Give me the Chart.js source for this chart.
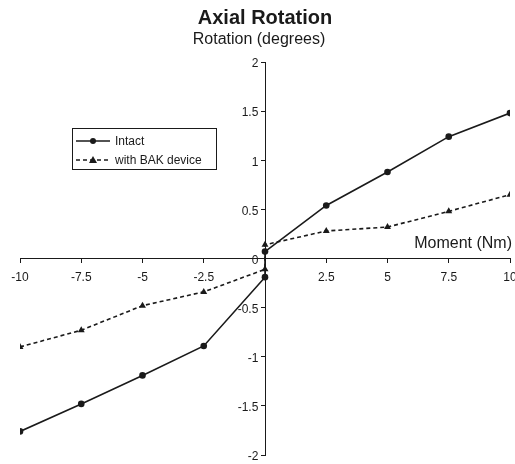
<!DOCTYPE html>
<html>
<head>
<meta charset="utf-8">
<script src="https://cdn.jsdelivr.net/npm/chart.js@4/dist/chart.umd.min.js"></script>
<style>
html,body{margin:0;padding:0;background:#fff;}
#wrap{width:515px;height:464px;}
</style>
</head>
<body>
<div id="wrap"><canvas id="c" width="515" height="464"></canvas></div>
<script>
const titleText = "Axial Rotation";
const subtitleText = "Rotation (degrees)";
const xAxisLabel = "Moment (Nm)";
const seriesNames = ["Intact", "with BAK device"];
const intactX = [-10, -7.5, -5, -2.5, 0, 0, 2.5, 5, 7.5, 10];
const intactY = [-1.76, -1.48, -1.19, -0.89, -0.19, 0.07, 0.54, 0.88, 1.24, 1.48];
const bakX = [-10, -7.5, -5, -2.5, 0, 0, 2.5, 5, 7.5, 10];
const bakY = [-0.90, -0.73, -0.48, -0.34, -0.11, 0.14, 0.28, 0.32, 0.48, 0.65];
const xTicks = [-10, -7.5, -5, -2.5, 0, 2.5, 5, 7.5, 10];
const yTicks = [-2, -1.5, -1, -0.5, 0, 0.5, 1, 1.5, 2];

const ink = '#1a1a1a';
const toPts = (xs, ys) => xs.map((x, i) => ({x: x, y: ys[i]}));

const textPlugin = {
  id: 'texts',
  afterDraw(chart) {
    const ctx = chart.ctx;
    ctx.save();
    ctx.fillStyle = ink;
    ctx.textBaseline = 'alphabetic';
    ctx.textAlign = 'center';
    ctx.font = 'bold 20px "Liberation Sans", Arial, sans-serif';
    ctx.fillText(titleText, 265, 24);
    ctx.font = '16px "Liberation Sans", Arial, sans-serif';
    ctx.fillText(subtitleText, 259, 44);
    ctx.textAlign = 'right';
    ctx.font = '16px "Liberation Sans", Arial, sans-serif';
    ctx.fillText(xAxisLabel, 512, 248);
    // legend
    const lx = 72, ly = 128, lw = 144, lh = 41;
    ctx.strokeStyle = ink;
    ctx.lineWidth = 1;
    ctx.strokeRect(lx + 0.5, ly + 0.5, lw, lh);
    ctx.font = '12px "Liberation Sans", Arial, sans-serif';
    ctx.textAlign = 'left';
    ctx.textBaseline = 'middle';
    chart.data.datasets.forEach((ds, i) => {
      const y = ly + 13 + i * 19;
      ctx.beginPath();
      ctx.lineWidth = 1.5;
      ctx.setLineDash(ds.borderDash || []);
      ctx.moveTo(lx + 4, y);
      ctx.lineTo(lx + 38, y);
      ctx.stroke();
      ctx.setLineDash([]);
      const cx = lx + 21;
      ctx.beginPath();
      if (ds.pointStyle === 'triangle') {
        ctx.moveTo(cx, y - 4);
        ctx.lineTo(cx + 4, y + 3);
        ctx.lineTo(cx - 4, y + 3);
        ctx.closePath();
      } else {
        ctx.arc(cx, y, 3, 0, Math.PI * 2);
      }
      ctx.fillStyle = ink;
      ctx.fill();
      ctx.fillText(ds.label, lx + 43, y + 1);
    });
    ctx.restore();
  }
};

new Chart(document.getElementById('c'), {
  type: 'scatter',
  data: {
    datasets: [
      {
        label: seriesNames[0],
        data: toPts(intactX, intactY),
        showLine: true,
        borderColor: ink,
        backgroundColor: ink,
        borderWidth: 1.6,
        pointStyle: 'circle',
        pointRadius: 3.3,
        pointBorderWidth: 0,
        tension: 0
      },
      {
        label: seriesNames[1],
        data: toPts(bakX, bakY),
        showLine: true,
        borderColor: ink,
        backgroundColor: ink,
        borderWidth: 1.6,
        borderDash: [4, 3],
        pointStyle: 'triangle',
        pointRadius: 4,
        pointBorderWidth: 0,
        tension: 0
      }
    ]
  },
  options: {
    responsive: false,
    animation: false,
    devicePixelRatio: 1,
    layout: { padding: { left: 20, right: 5, top: 62, bottom: 9 } },
    plugins: {
      legend: { display: false },
      title: { display: false },
      tooltip: { enabled: false }
    },
    scales: {
      x: {
        type: 'linear',
        position: { y: 0 },
        min: -10, max: 10,
        afterBuildTicks(scale) { scale.ticks = xTicks.map(v => ({value: v})); },
        afterFit(scale) { scale.paddingLeft = 0; scale.paddingRight = 0; },
        ticks: {
          color: ink,
          font: { size: 12, family: '"Liberation Sans", Arial, sans-serif' },
          padding: 8,
          maxRotation: 0,
          autoSkip: false,
          callback: (v) => v === 0 ? '' : String(v)
        },
        grid: { drawOnChartArea: false, drawTicks: true, tickLength: 4, color: ink },
        border: { color: ink, width: 1 }
      },
      y: {
        type: 'linear',
        position: { x: 0 },
        min: -2, max: 2,
        afterBuildTicks(scale) { scale.ticks = yTicks.map(v => ({value: v})); },
        afterFit(scale) { scale.paddingTop = 0; scale.paddingBottom = 0; },
        ticks: {
          color: ink,
          font: { size: 12, family: '"Liberation Sans", Arial, sans-serif' },
          autoSkip: false,
          labelOffset: 2,
          callback: (v) => String(v) + '  '
        },
        grid: { drawOnChartArea: false, drawTicks: true, tickLength: 4, color: ink },
        border: { color: ink, width: 1 }
      }
    }
  },
  plugins: [textPlugin]
});
</script>
</body>
</html>
